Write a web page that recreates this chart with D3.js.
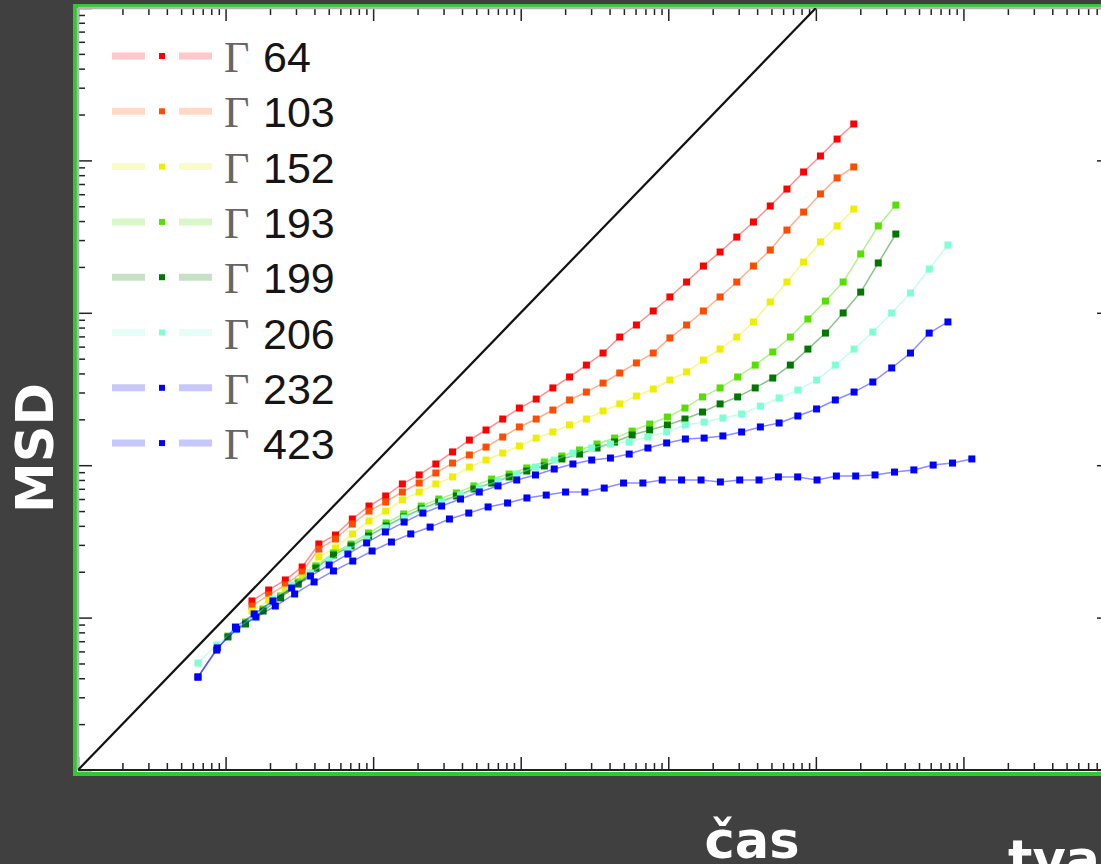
<!DOCTYPE html>
<html>
<head>
<meta charset="utf-8">
<style>
  html, body { margin: 0; padding: 0; background: #404040; overflow: hidden; }
  svg { display: block; }
  .axis-title { fill: #fff; font-family: "DejaVu Sans", sans-serif; font-weight: bold; font-size: 51px; }
</style>
<title>MSD</title>
</head>
<body>
<svg id="chart" width="1101" height="864"></svg>
<script src="https://cdn.jsdelivr.net/npm/d3@7"></script>
<script>
// ---- data (log10 values) ----
var gammas = [64, 103, 152, 193, 199, 206, 232, 423];
var colors = ["#ff0000", "#ff4c00", "#eeee00", "#55e000", "#007800", "#7fffd4", "#0000ff", "#0000ff"];

// log10 of lag time, one grid per group of series
var logLagA = [1.179, 1.292, 1.405, 1.519, 1.632, 1.745, 1.859, 1.972, 2.085, 2.198, 2.312, 2.425, 2.538, 2.652, 2.765, 2.878, 2.991, 3.105, 3.218, 3.331, 3.445, 3.558, 3.671, 3.784, 3.898, 4.011, 4.124, 4.238, 4.351, 4.464, 4.577, 4.691, 4.804, 4.917, 5.031, 5.144, 5.257];
var logLagB = [1.016, 1.135, 1.254, 1.373, 1.492, 1.612, 1.731, 1.850, 1.969, 2.088, 2.207, 2.326, 2.445, 2.564, 2.683, 2.803, 2.922, 3.041, 3.160, 3.279, 3.398, 3.517, 3.636, 3.755, 3.874, 3.994, 4.113, 4.232, 4.351, 4.470, 4.589, 4.708, 4.827, 4.946, 5.065, 5.185, 5.304, 5.423, 5.542];
var logLagC = [0.813, 0.940, 1.067, 1.194, 1.321, 1.448, 1.575, 1.702, 1.829, 1.956, 2.083, 2.210, 2.337, 2.464, 2.592, 2.719, 2.846, 2.973, 3.100, 3.227, 3.354, 3.481, 3.608, 3.735, 3.862, 3.989, 4.116, 4.243, 4.370, 4.497, 4.624, 4.751, 4.878, 5.005, 5.132, 5.259, 5.386, 5.514, 5.641, 5.768, 5.895];
var logLagD = [0.813, 0.944, 1.075, 1.206, 1.337, 1.468, 1.600, 1.731, 1.862, 1.993, 2.124, 2.255, 2.386, 2.517, 2.648, 2.779, 2.911, 3.042, 3.173, 3.304, 3.435, 3.566, 3.697, 3.828, 3.959, 4.090, 4.222, 4.353, 4.484, 4.615, 4.746, 4.877, 5.008, 5.139, 5.270, 5.401, 5.533, 5.664, 5.795, 5.926, 6.057];

// log10 of MSD
var msd64 = [1.109, 1.181, 1.247, 1.332, 1.483, 1.542, 1.647, 1.732, 1.798, 1.877, 1.936, 2.008, 2.087, 2.165, 2.231, 2.303, 2.375, 2.434, 2.507, 2.579, 2.657, 2.736, 2.841, 2.920, 3.012, 3.104, 3.202, 3.307, 3.399, 3.497, 3.596, 3.701, 3.812, 3.924, 4.029, 4.140, 4.239];
var msd103 = [1.076, 1.148, 1.214, 1.299, 1.450, 1.516, 1.614, 1.699, 1.759, 1.824, 1.883, 1.949, 2.014, 2.067, 2.119, 2.185, 2.251, 2.303, 2.362, 2.428, 2.480, 2.539, 2.605, 2.671, 2.736, 2.835, 2.920, 3.012, 3.104, 3.202, 3.307, 3.412, 3.543, 3.661, 3.780, 3.885, 3.957];
var msd152 = [1.043, 1.115, 1.181, 1.260, 1.398, 1.457, 1.549, 1.634, 1.699, 1.772, 1.824, 1.877, 1.923, 1.988, 2.034, 2.080, 2.126, 2.178, 2.218, 2.264, 2.303, 2.356, 2.402, 2.454, 2.500, 2.559, 2.612, 2.690, 2.762, 2.841, 2.940, 3.071, 3.202, 3.333, 3.465, 3.570, 3.681];
var msd193 = [0.879, 0.971, 1.056, 1.142, 1.234, 1.339, 1.424, 1.483, 1.555, 1.621, 1.680, 1.732, 1.778, 1.818, 1.864, 1.909, 1.942, 1.982, 2.021, 2.060, 2.100, 2.139, 2.178, 2.224, 2.270, 2.316, 2.375, 2.448, 2.507, 2.579, 2.657, 2.743, 2.841, 2.959, 3.077, 3.202, 3.386, 3.570, 3.707];
var msd199 = [0.873, 0.958, 1.043, 1.129, 1.220, 1.325, 1.411, 1.470, 1.535, 1.601, 1.660, 1.713, 1.759, 1.798, 1.844, 1.883, 1.923, 1.962, 1.995, 2.041, 2.073, 2.113, 2.152, 2.198, 2.231, 2.264, 2.303, 2.349, 2.402, 2.448, 2.507, 2.572, 2.657, 2.762, 2.867, 2.999, 3.136, 3.327, 3.517];
var msd206 = [0.702, 0.820, 0.919, 1.004, 1.122, 1.214, 1.293, 1.371, 1.444, 1.516, 1.588, 1.654, 1.706, 1.759, 1.804, 1.850, 1.896, 1.942, 1.988, 2.034, 2.080, 2.113, 2.139, 2.152, 2.185, 2.218, 2.264, 2.283, 2.310, 2.336, 2.388, 2.441, 2.493, 2.559, 2.657, 2.762, 2.874, 2.999, 3.130, 3.287, 3.445];
var msd232 = [0.610, 0.787, 0.938, 1.024, 1.109, 1.194, 1.273, 1.345, 1.417, 1.490, 1.562, 1.627, 1.686, 1.732, 1.778, 1.824, 1.864, 1.903, 1.936, 1.975, 2.008, 2.034, 2.047, 2.073, 2.113, 2.146, 2.172, 2.178, 2.192, 2.218, 2.251, 2.277, 2.323, 2.369, 2.428, 2.480, 2.546, 2.638, 2.736, 2.867, 2.940];
var msd423 = [0.610, 0.801, 0.925, 1.004, 1.076, 1.155, 1.234, 1.306, 1.371, 1.437, 1.496, 1.549, 1.594, 1.647, 1.686, 1.726, 1.752, 1.785, 1.804, 1.824, 1.824, 1.850, 1.883, 1.883, 1.903, 1.903, 1.903, 1.890, 1.903, 1.903, 1.923, 1.923, 1.903, 1.929, 1.929, 1.936, 1.955, 1.969, 2.001, 2.014, 2.041];

var lagGrids = [logLagA, logLagA, logLagA, logLagB, logLagB, logLagC, logLagC, logLagD];
var msdLists = [msd64, msd103, msd152, msd193, msd199, msd206, msd232, msd423];

// build series table
var series = gammas.map(function (g, i) {
    var lags = lagGrids[i], msd = msdLists[i];
    var n = Math.min(lags.length, msd.length);
    var pts = [];
    for (var k = 0; k < n; k++) pts.push({ t: Math.pow(10, lags[k]), msd: Math.pow(10, msd[k]) });
    return { gamma: g, color: colors[i], points: pts };
});

// ---- layout ----
var plot = { left: 78, right: 1111, top: 8, bottom: 770 };

var x = d3.scaleLog().domain([1, 1e7]).range([plot.left, plot.right]);
var y = d3.scaleLog().domain([1, 1e5]).range([plot.bottom, plot.top]);

var svg = d3.select("#chart");

svg.append("rect").attr("width", 1101).attr("height", 864).attr("fill", "#404040");

// green border + white plot area
svg.append("rect")
    .attr("x", 75).attr("y", 6)
    .attr("width", 1118 - 75).attr("height", 774 - 6)
    .attr("fill", "#fff").attr("stroke", "#33c733").attr("stroke-width", 4);

svg.append("defs").append("clipPath").attr("id", "clip")
    .append("rect")
    .attr("x", plot.left).attr("y", plot.top)
    .attr("width", plot.right - plot.left).attr("height", plot.bottom - plot.top);

// ticks, pointing inward
function isMajor(d) {
    var l = Math.log10(d);
    return Math.abs(l - Math.round(l)) < 1e-9;
}
var xt = x.ticks(), yt = y.ticks();

function tickStyle(g) {
    g.select(".domain").remove();
    g.selectAll(".tick text").remove();
    g.selectAll(".tick line").attr("stroke", "#222").attr("stroke-width", 1.5);
}

svg.append("g").attr("transform", "translate(0," + plot.bottom + ")")
    .call(d3.axisBottom(x).tickValues(xt).tickFormat("").tickSizeOuter(0))
    .call(tickStyle)
    .selectAll(".tick line").attr("y2", function (d) { return isMajor(d) ? -13 : -7; });

svg.append("g").attr("transform", "translate(0," + plot.top + ")")
    .call(d3.axisTop(x).tickValues(xt).tickFormat("").tickSizeOuter(0))
    .call(tickStyle)
    .selectAll(".tick line").attr("y2", function (d) { return isMajor(d) ? 13 : 7; });

svg.append("g").attr("transform", "translate(" + plot.left + ",0)")
    .call(d3.axisLeft(y).tickValues(yt).tickFormat("").tickSizeOuter(0))
    .call(tickStyle)
    .selectAll(".tick line").attr("x2", function (d) { return isMajor(d) ? 14 : 7; });

svg.append("g").attr("transform", "translate(" + plot.right + ",0)")
    .call(d3.axisRight(y).tickValues(yt).tickFormat("").tickSizeOuter(0))
    .call(tickStyle)
    .selectAll(".tick line").attr("x2", function (d) { return isMajor(d) ? -14 : -7; });

// frame lines
svg.append("line").attr("x1", plot.left).attr("x2", plot.left).attr("y1", plot.top).attr("y2", plot.bottom)
    .attr("stroke", "#b4b4b4").attr("stroke-width", 2.5);
svg.append("line").attr("x1", plot.left).attr("x2", plot.right).attr("y1", plot.top).attr("y2", plot.top)
    .attr("stroke", "#b4b4b4").attr("stroke-width", 2.5);
svg.append("line").attr("x1", plot.left).attr("x2", plot.right).attr("y1", plot.bottom).attr("y2", plot.bottom)
    .attr("stroke", "#1e1e1e").attr("stroke-width", 2);

var inner = svg.append("g").attr("clip-path", "url(#clip)");

// reference line MSD ~ t
inner.append("path")
    .datum([{ t: 1, msd: 1 }, { t: 1e5, msd: 1e5 }])
    .attr("d", d3.line().x(function (d) { return x(d.t); }).y(function (d) { return y(d.msd); }))
    .attr("stroke", "#111").attr("stroke-width", 2.2).attr("fill", "none");

var line = d3.line()
    .x(function (d) { return x(d.t); })
    .y(function (d) { return y(d.msd); });

var ms = 7;
series.forEach(function (s) {
    var g = inner.append("g");
    g.append("path")
        .datum(s.points)
        .attr("d", line)
        .attr("fill", "none")
        .attr("stroke", s.color)
        .attr("stroke-opacity", 0.45)
        .attr("stroke-width", 1.5);
    g.selectAll("rect")
        .data(s.points)
        .enter()
        .append("rect")
        .attr("x", function (d) { return x(d.t) - ms / 2; })
        .attr("y", function (d) { return y(d.msd) - ms / 2; })
        .attr("width", ms).attr("height", ms)
        .attr("fill", s.color);
});

// legend
var legend = svg.append("g");
series.forEach(function (s, i) {
    var cy = 56 + i * 55.3;
    var row = legend.append("g").attr("transform", "translate(0," + cy + ")");
    row.append("line").attr("x1", 112).attr("x2", 145).attr("y1", 0).attr("y2", 0)
        .attr("stroke", s.color).attr("stroke-opacity", 0.22).attr("stroke-width", 7);
    row.append("line").attr("x1", 179).attr("x2", 212).attr("y1", 0).attr("y2", 0)
        .attr("stroke", s.color).attr("stroke-opacity", 0.22).attr("stroke-width", 7);
    row.append("rect").attr("x", 162 - 3).attr("y", -3).attr("width", 6).attr("height", 6)
        .attr("fill", s.color);
    var t = row.append("text").attr("y", 16);
    t.append("tspan").attr("x", 224)
        .attr("font-family", "'Liberation Serif', serif").attr("font-size", 44).attr("fill", "#666")
        .text("\u0393");
    t.append("tspan").attr("x", 263)
        .attr("font-family", "'Liberation Sans', Arial, sans-serif").attr("font-size", 43).attr("fill", "#151515")
        .text(s.gamma);
});

// axis titles
svg.append("text").attr("class", "axis-title")
    .attr("text-anchor", "middle")
    .attr("transform", "translate(53,448) rotate(-90)")
    .text("MSD");

svg.append("text").attr("class", "axis-title")
    .attr("text-anchor", "middle")
    .attr("x", 752).attr("y", 858)
    .text("čas");

svg.append("text").attr("class", "axis-title")
    .attr("x", 1008).attr("y", 877)
    .text("tvar");
</script>
</body>
</html>
